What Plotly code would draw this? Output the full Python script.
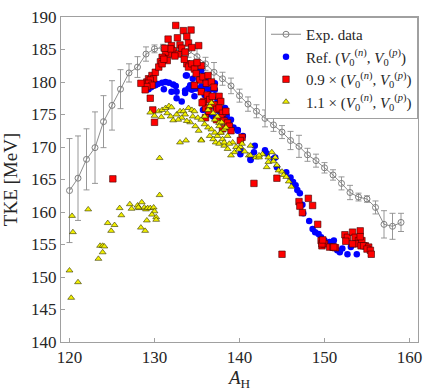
import plotly.graph_objects as go

# experimental data
expA = list(range(120, 160))
expTKE = [163.3, 165.2, 168.1, 169.9, 173.9, 176.4, 178.9, 181.4, 182.3, 184.3,
          185.1, 185.3, 185.3, 184.8, 184.8, 183.9, 182.8, 181.5, 180.5, 179.4,
          177.9, 176.6, 175.5, 174.4, 173.4, 172.3, 171.0, 170.1, 168.8, 167.9,
          166.8, 165.7, 164.4, 163.0, 162.3, 162.0, 160.7, 158.1, 157.8, 158.4]
expErr = [8.0, 6.5, 4.7, 5.5, 4.0, 3.8, 3.0, 1.4, 1.6, 1.1,
          0.6, 0.5, 0.5, 0.8, 1.0, 1.3, 1.0, 1.5, 1.0, 1.2,
          1.0, 1.1, 1.0, 1.3, 1.0, 1.0, 1.4, 1.7, 1.0, 1.0,
          0.8, 0.8, 1.0, 1.1, 0.6, 0.5, 1.0, 2.1, 2.0, 1.4]

# Ref. (V0n, V0p)
refA = [129.3, 129.6, 130.1, 130.4, 130.9, 131.3, 131.7, 132.2, 132.5, 131.1, 132.0, 132.6,
        133.2, 132.6, 133.6, 133.6, 133.7, 134.2, 134.4, 134.7, 134.7, 134.9, 135.5, 135.3,
        135.3, 135.5, 134.0, 133.8, 136.1, 135.9, 135.9, 136.5, 136.9, 137.1, 137.1, 137.4,
        135.7, 136.3, 136.9, 136.3, 136.7, 137.2, 137.6, 138.0, 138.3, 138.5, 138.8, 139.0,
        139.3, 139.8, 140.4, 140.1, 141.3, 141.8, 139.8, 140.1, 141.7, 143.0, 143.2, 141.3,
        144.2, 144.0, 144.4, 145.5, 146.0, 146.3, 146.6, 146.8, 147.1, 147.4, 147.5, 148.2,
        148.6, 148.9, 149.3, 149.6, 150.0, 150.6, 151.0, 151.1, 151.5, 151.8, 152.1, 152.7,
        153.1, 153.8, 135.0, 134.5, 136.0, 135.8]
refTKE = [178.9, 179.2, 179.5, 179.7, 179.9, 180.0, 179.9, 179.6, 179.4, 178.9, 178.5, 178.5,
          177.0, 177.5, 178.3, 178.7, 181.0, 179.5, 178.8, 179.0, 177.8, 179.0, 181.8, 180.3,
          180.5, 179.3, 179.0, 181.0, 179.0, 178.0, 179.3, 178.8, 179.0, 179.8, 178.8, 177.3,
          175.7, 175.0, 174.7, 177.5, 176.5, 176.0, 175.5, 174.0, 176.0, 174.8, 173.5, 174.2,
          173.0, 172.6, 171.7, 168.9, 168.1, 170.2, 172.5, 169.7, 169.2, 169.5, 169.0, 168.0,
          168.4, 168.2, 166.9, 166.1, 165.3, 164.6, 164.1, 163.4, 162.9, 161.1, 159.8, 158.6,
          157.4, 156.9, 156.6, 156.1, 155.6, 155.4, 154.8, 155.6, 154.1, 153.8, 154.4, 153.5,
          154.6, 153.5, 181.5, 180.5, 180.5, 181.0]

# 0.9 x (V0n, V0p)
lowA = [132.5, 133.4, 134.3, 133.8, 132.7, 131.6, 134.0, 135.2, 132.0, 132.2, 133.0, 132.8,
        131.7, 131.3, 130.9, 131.9, 133.2, 133.6, 134.4, 130.7, 131.5, 133.8, 134.0, 134.4,
        134.7, 135.5, 134.9, 135.3, 135.7, 136.1, 134.7, 132.4, 131.2, 133.5, 135.0,
        129.1, 129.3, 129.7, 130.1, 130.5, 130.9, 131.1, 129.9, 129.5, 129.3, 129.7, 129.1, 128.9,
        128.4, 129.5, 129.8, 130.0, 125.1, 141.7, 145.0, 144.4,
        135.5, 135.8, 136.2, 136.5, 136.0, 136.4, 136.8, 137.0, 137.3, 137.6, 137.8, 137.6,
        138.0, 137.8, 138.2, 138.6, 138.8, 140.3, 140.1, 136.3, 136.7, 137.0, 135.6, 136.0,
        137.3, 138.4, 139.0, 138.0,
        147.0, 147.1, 147.4, 148.1, 148.6, 149.2, 149.6, 149.7, 150.0, 150.6, 151.0, 151.3,
        149.7, 149.8, 151.1,
        152.4, 152.7, 153.3, 153.6, 154.2, 154.0, 153.8, 153.3, 154.4, 154.3, 154.8, 154.6,
        155.2, 155.0, 155.4, 155.5, 154.2, 152.5]
lowTKE = [188.7, 187.9, 188.0, 187.0, 186.8, 186.6, 186.0, 185.6, 185.6, 184.8, 185.7, 184.3,
          184.3, 184.6, 183.8, 185.1, 185.2, 184.6, 185.3, 183.1, 183.3, 182.8, 182.3, 182.8,
          182.0, 182.5, 181.3, 180.3, 180.8, 179.8, 179.5, 184.0, 185.2, 183.5, 183.0,
          180.0, 180.5, 181.0, 181.5, 182.3, 182.8, 183.5, 180.5, 180.3, 179.8, 179.5, 179.3, 178.8,
          179.8, 177.5, 175.7, 173.8, 165.1, 164.4, 153.5, 165.2,
          178.5, 177.0, 178.0, 177.3, 176.0, 175.5, 177.8, 176.5, 175.8, 177.8, 177.0, 176.0,
          175.2, 174.5, 174.0, 173.7, 173.2, 171.5, 171.0, 181.0, 180.0, 179.2, 176.8, 174.5,
          174.2, 175.5, 172.5, 172.8,
          161.6, 160.9, 159.9, 162.1, 161.0, 158.1, 155.6, 154.8, 155.1, 154.6, 154.6, 154.5,
          155.1, 155.7, 154.6,
          156.5, 156.1, 156.9, 156.1, 157.1, 155.6, 155.1, 155.1, 155.6, 154.8, 154.8, 154.8,
          154.6, 154.3, 154.1, 153.5, 156.2, 155.5]

# 1.1 x (V0n, V0p)
highA = [120.0, 120.2, 120.3, 120.4, 121.0, 122.2, 123.4, 123.6, 123.9, 124.1, 123.9, 124.5,
         124.9, 125.3, 125.9, 126.1, 127.1, 127.3, 128.0, 128.2, 128.5, 128.8, 129.0, 129.2,
         129.5, 129.9, 130.0, 129.7, 130.2, 130.2, 129.1, 128.4, 128.9, 130.6, 128.1, 130.6,
         133.0, 133.7, 135.5,
         129.5, 130.5, 130.9, 131.3, 131.7, 132.0, 131.5, 131.9, 132.2, 132.6, 133.0, 133.4,
         133.6, 133.2, 132.8, 134.0, 134.4, 134.7, 134.5, 135.1, 135.5, 135.9, 136.3, 136.5,
         136.7, 136.9, 137.1, 137.4, 137.6, 135.9, 136.3, 136.7, 137.1, 137.4, 137.8, 138.0,
         136.5, 136.9, 137.2, 137.6, 138.2, 135.5, 139.4, 139.0, 138.6, 138.2, 137.8, 137.6,
         138.2, 138.6, 139.2, 139.6, 140.1, 140.3, 141.3, 141.1, 141.9, 142.3, 142.7, 143.4,
         143.8, 144.2, 141.3, 142.3, 143.2, 143.4, 144.0, 144.4, 144.6, 145.0, 145.2, 145.5,
         145.8, 146.1, 134.2, 134.8, 135.2, 133.8, 130.0, 130.8, 138.8, 139.9, 140.6, 137.9,
         138.4]
highTKE = [151.0, 146.8, 159.4, 156.9, 149.2, 160.4, 152.8, 154.8, 154.8, 154.7, 153.8, 158.3,
           157.1, 158.0, 160.6, 159.5, 161.2, 160.5, 161.0, 160.6, 161.5, 160.7, 160.4, 160.6,
           160.6, 160.7, 160.1, 159.6, 159.2, 158.8, 158.7, 157.6, 157.1, 162.6, 160.7, 168.3,
           170.7, 171.0, 171.1,
           175.3, 175.5, 175.7, 176.0, 176.3, 176.1, 175.2, 174.7, 174.1, 175.0, 175.5, 175.5,
           175.0, 174.5, 174.2, 176.0, 175.7, 175.5, 174.7, 174.5, 174.2, 174.7, 175.7, 176.3,
           176.8, 175.2, 174.2, 174.7, 173.7, 173.5, 173.0, 172.7, 172.2, 171.7, 172.2, 171.2,
           171.7, 171.2, 170.7, 170.5, 170.2, 171.0, 169.2, 168.7, 169.7, 170.7, 172.2, 173.2,
           172.7, 171.7, 170.7, 170.0, 170.0, 170.5, 170.2, 168.7, 168.4, 168.4, 168.9, 168.4,
           169.2, 168.4, 168.7, 168.7, 166.9, 167.7, 167.8, 167.2, 166.4, 166.2, 165.7, 165.4,
           164.7, 163.9, 173.8, 173.2, 172.5, 174.0, 174.8, 174.6, 170.5, 169.6, 169.3, 173.8,
           173.0]

serif = "Liberation Serif"
V0n = "<i>V</i><sub>0</sub><sup>(<i>n</i>)</sup>"
V0p = "<i>V</i><sub>0</sub><sup>(<i>p</i>)</sup>"

fig = go.Figure()

fig.add_trace(go.Scatter(
    x=expA, y=expTKE, name="Exp. data", mode="lines+markers",
    line=dict(color="#7f7f7f", width=0.9),
    marker=dict(symbol="circle-open", size=6, color="#7f7f7f", line=dict(width=1)),
    error_y=dict(type="data", array=expErr, color="#8c8c8c", thickness=0.9, width=3),
))
fig.add_trace(go.Scatter(
    x=refA, y=refTKE, name=f"Ref. ({V0n}, {V0p})", mode="markers",
    marker=dict(symbol="circle", size=6.5, color="#0000ff", line=dict(width=0)),
))
fig.add_trace(go.Scatter(
    x=lowA, y=lowTKE, name=f"0.9 × ({V0n}, {V0p})", mode="markers",
    marker=dict(symbol="square", size=6.5, color="#ff0000", line=dict(width=0.6, color="#400000")),
))
fig.add_trace(go.Scatter(
    x=highA, y=highTKE, name=f"1.1 × ({V0n}, {V0p})", mode="markers",
    marker=dict(symbol="triangle-up", size=6, color="#f2f000", line=dict(width=0.6, color="#333300")),
))

axis_common = dict(
    showline=True, mirror=True, linecolor="#a0a0a0", linewidth=1,
    ticks="inside", ticklen=4, tickcolor="#a0a0a0",
    showgrid=False, zeroline=False,
    tickfont=dict(family=serif, size=17, color="#262626"),
)

fig.update_xaxes(range=[119, 161], tickvals=[120, 130, 140, 150, 160],
                 title=dict(text="<i>A</i><sub>H</sub>", font=dict(family=serif, size=19, color="#262626"), standoff=2),
                 **axis_common)
fig.update_yaxes(range=[140, 190], tickvals=list(range(140, 191, 5)),
                 title=dict(text="TKE [MeV]", font=dict(family=serif, size=19, color="#262626"), standoff=8),
                 **axis_common)

fig.update_layout(
    width=430, height=391,
    margin=dict(l=61, r=8, t=12, b=48),
    plot_bgcolor="white", paper_bgcolor="white",
    legend=dict(x=1, y=1, xanchor="right", yanchor="top",
                bgcolor="white", bordercolor="#a0a0a0", borderwidth=1,
                font=dict(family=serif, size=15, color="#262626"),
                itemwidth=30, tracegroupgap=0),
    showlegend=True,
)

fig.write_html("out.html", config={"displayModeBar": False},
               post_script="document.body.style.margin='0px';")
